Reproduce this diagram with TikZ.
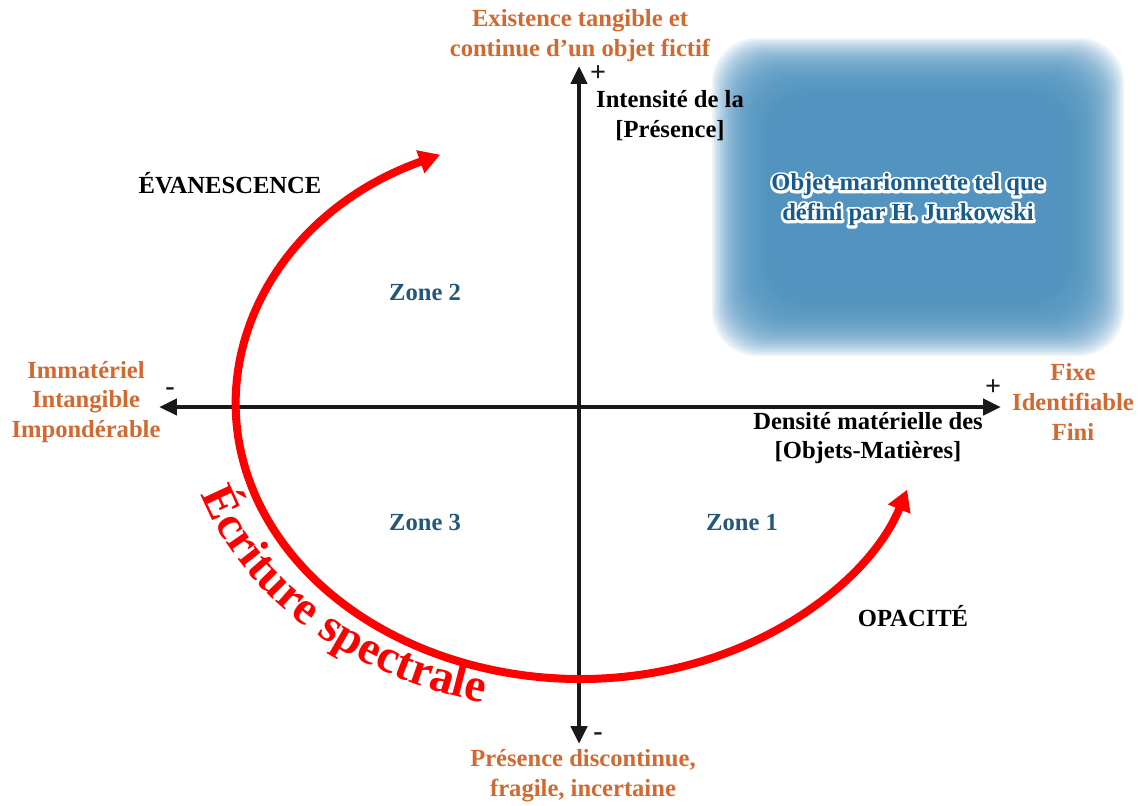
\documentclass[tikz,border=0pt]{standalone}
\usepackage{fontspec}
\setmainfont{Liberation Serif}
\usetikzlibrary{arrows.meta, calc, decorations.text}

\definecolor{rouille}{RGB}{209,105,48}
\definecolor{bleuzone}{RGB}{35,88,122}
\definecolor{bleuflou}{RGB}{74,143,188}
\definecolor{bleutexte}{RGB}{22,92,140}
\definecolor{encre}{RGB}{25,25,25}

% liseré blanc autour du texte
\newcommand\lisere[1]{\leavevmode\rlap{\color{white}\special{pdf:code 1 Tr 2.8 w 1 j}#1\special{pdf:code 0 Tr}}#1}

\begin{document}
\begin{tikzpicture}[
    x=0.02cm, y=0.02cm,
    every node/.style={anchor=center, inner sep=0pt, align=center, font=\fontsize{14}{17}\selectfont\bfseries},
    pole/.style={text=rouille},
    zone/.style={text=bleuzone},
    mot/.style={text=black},
    signe/.style={text=encre, font=\fontsize{16}{16}\selectfont\bfseries},
    axe/.style={draw=encre, line width=0.09cm, {Triangle[length=0.36cm,width=0.32cm]}-{Triangle[length=0.36cm,width=0.32cm]}},
    spectre/.style={draw=red, line width=0.16cm, {Triangle[length=0.42cm,width=0.46cm]}-{Triangle[length=0.42cm,width=0.46cm]}}
    ]

    \useasboundingbox (0,0) rectangle (1141,-805);

    % halo bleu
    \foreach \k in {0,...,29}
        \fill[bleuflou, opacity=0.1, rounded corners=0.9cm] ({712+2*\k},{-38-2*\k}) rectangle ({1124-2*\k},{-356+2*\k});

    \coordinate (haut) at (579,-66);
    \coordinate (bas) at (579,-744);
    \coordinate (gauche) at (159,-407);
    \coordinate (droite) at (1001,-407);
    \coordinate (ctr) at (580,-405);

    \draw[axe] (bas) -- (haut);
    \draw[axe] (gauche) -- (droite);

    \draw[spectre] ($(ctr)+(114:6.88cm and 5.48cm)$) arc[start angle=114, end angle=342, x radius=6.88cm, y radius=5.48cm];

    \path[decorate, decoration={text along path, text align=left,
        text={|\fontsize{27}{27}\selectfont\bfseries\color{red}|Écriture spectrale}}]
        ($(ctr)+(197:7.92cm and 6.14cm)$) arc[start angle=197, end angle=278, x radius=7.92cm, y radius=6.14cm];

    \node[signe] (plushaut) at (598,-74) {+};
    \node[signe] (plusdroite) at (993,-388) {+};
    \node[signe] (moinsgauche) at (170,-392) {-};
    \node[signe] (moinsbas) at (598,-737) {-};

    \node[pole] (existence) at (580,-36) {Existence tangible et\\continue d’un objet fictif};
    \node[pole] (immateriel) at (86,-402) {Immatériel\\Intangible\\Impondérable};
    \node[pole] (fixe) at (1073,-402) {Fixe\\Identifiable\\Fini};
    \node[pole] (discontinue) at (583,-776) {Présence discontinue,\\fragile, incertaine};

    \node[mot] (intensite) at (670,-116) {Intensité de la\\[0pt][Présence]};
    \node[mot] (densite) at (868,-438) {Densité matérielle des\\[0pt][Objets-Matières]};
    \node[mot] (evanescence) at (230,-183) {ÉVANESCENCE};
    \node[mot] (opacite) at (913,-616) {OPACITÉ};

    \node[zone] (zone2) at (425,-292) {Zone 2};
    \node[zone] (zone3) at (425,-522) {Zone 3};
    \node[zone] (zone1) at (742,-522) {Zone 1};

    \node[text=bleutexte] (marionnette) at (908,-200) {\lisere{Objet-marionnette tel que}\\\lisere{défini par H. Jurkowski}};

\end{tikzpicture}
\end{document}
